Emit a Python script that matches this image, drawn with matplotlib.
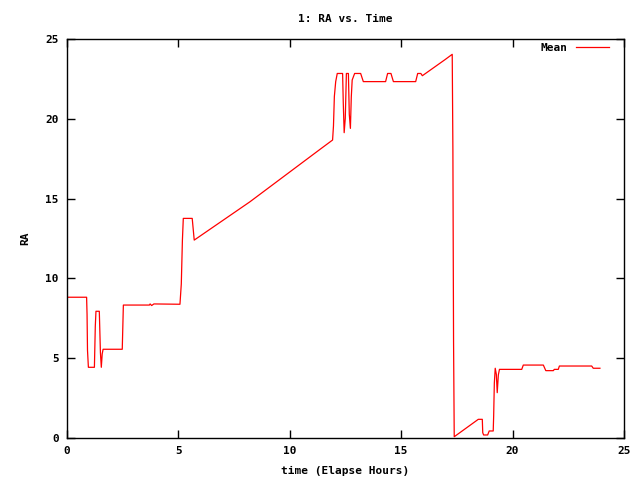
import matplotlib
matplotlib.use("Agg")
import matplotlib.pyplot as plt

# RA track (hours, RA)
hours = [0.0, 0.88, 0.90, 0.92, 0.96, 1.23, 1.27, 1.30, 1.45, 1.50, 1.54, 1.58, 1.62,
         2.48, 2.53, 3.70, 3.73, 3.80, 3.90, 5.07, 5.13, 5.18, 5.22, 5.62, 5.71,
         8.21, 11.36, 11.92, 11.96, 12.00, 12.06, 12.13, 12.37, 12.40, 12.44, 12.49,
         12.54, 12.63, 12.67, 12.72, 12.76, 12.80, 12.91, 13.18, 13.30, 14.30, 14.39,
         14.54, 14.65, 15.65, 15.74, 15.88, 15.95, 16.96, 17.29, 17.32, 17.35, 17.38,
         18.46, 18.64, 18.66, 18.70, 18.88, 18.95, 19.13, 19.15, 19.18, 19.22, 19.27,
         19.31, 19.36, 19.41, 20.41, 20.48, 21.38, 21.49, 21.83, 21.87, 22.05, 22.10,
         23.55, 23.62, 23.92]
ra = [8.82, 8.82, 7.75, 5.50, 4.43, 4.43, 7.00, 7.94, 7.94, 5.35, 4.43, 5.27, 5.56,
      5.56, 8.33, 8.33, 8.40, 8.30, 8.40, 8.38, 9.65, 12.40, 13.76, 13.76, 12.40,
      14.80, 18.09, 18.67, 19.55, 21.40, 22.33, 22.84, 22.84, 21.00, 19.13, 20.03,
      22.84, 22.84, 20.28, 19.40, 21.37, 22.43, 22.84, 22.84, 22.33, 22.33, 22.84,
      22.84, 22.33, 22.33, 22.84, 22.84, 22.70, 23.70, 24.04, 18.09, 6.03, 0.08,
      1.17, 1.17, 0.33, 0.19, 0.19, 0.44, 0.44, 1.38, 3.43, 4.37, 3.99,
      2.84, 3.95, 4.30, 4.30, 4.57, 4.57, 4.22, 4.22, 4.30, 4.30, 4.51,
      4.51, 4.37, 4.37]

xticks = [0, 5, 10, 15, 20, 25]
yticks = [0, 5, 10, 15, 20, 25]

font = {"family": "DejaVu Sans Mono", "weight": "bold", "size": 8}

fig = plt.figure(figsize=(6.4, 4.8), dpi=100)
ax = fig.add_axes([67 / 640, 42 / 480, 557 / 640, 399 / 480])

ax.plot(hours, ra, color="#ff0000", lw=0.9, label="Mean")

ax.set_xlim(0, 25)
ax.set_ylim(0, 25)
ax.set_xticks(xticks)
ax.set_yticks(yticks)
ax.tick_params(direction="in", length=6, width=1, top=True, right=True, pad=6)
for lab in ax.get_xticklabels() + ax.get_yticklabels():
    lab.set_fontproperties(font)
for s in ax.spines.values():
    s.set_linewidth(1)

ax.set_title("1: RA vs. Time", fontdict=font, pad=12)
ax.set_xlabel("time (Elapse Hours)", fontdict=font, labelpad=7)
ax.set_ylabel("RA", fontdict=font, labelpad=11)

leg = ax.legend(loc="upper right", frameon=False, markerfirst=False,
                handlelength=3.0, handletextpad=0.7, borderpad=0, borderaxespad=0,
                bbox_to_anchor=(0.973, 0.99), prop=font)

fig.savefig("out.png", dpi=100)
